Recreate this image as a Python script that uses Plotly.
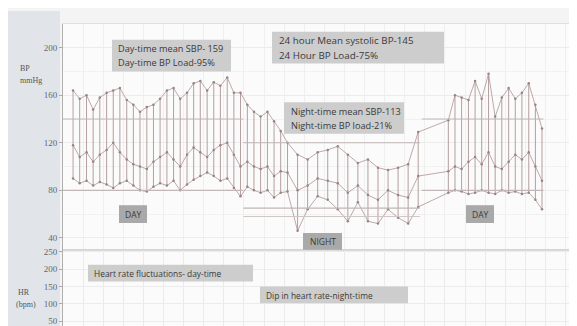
import plotly.graph_objects as go

# ---------------- data ----------------
times_day1 = [0.50, 0.83, 1.17, 1.50, 1.83, 2.17, 2.50, 2.83, 3.17, 3.50, 3.83,
              4.17, 4.50, 4.83, 5.17, 5.50, 5.83, 6.17, 6.50, 6.83, 7.17, 7.50,
              7.83, 8.17, 8.50, 8.83, 9.17, 9.50, 9.83, 10.17, 10.50, 10.83, 11.17]
sys_day1 = [164, 157, 160, 148, 158, 162, 164, 166, 156, 152, 146, 150, 152, 157, 164,
            166, 157, 162, 170, 172, 164, 171, 168, 175, 162, 162, 152, 146, 142, 146,
            138, 130, 120]
dia_day1 = [90, 86, 88, 84, 87, 85, 82, 86, 88, 84, 80, 79, 83, 86, 84, 88, 80, 85, 89,
            92, 95, 92, 88, 90, 82, 75, 83, 80, 78, 80, 74, 78, 79]
map_day1 = [118, 108, 112, 104, 110, 114, 120, 112, 106, 102, 100, 98, 104, 108, 112,
            106, 100, 110, 116, 112, 108, 114, 118, 120, 110, 100, 104, 100, 98, 100,
            92, 96, 95]

times_night = [11.67, 12.17, 12.67, 13.17, 13.67, 14.17, 14.67, 15.17, 15.67, 16.17,
               16.67, 17.17, 17.67]
sys_night = [110, 106, 112, 114, 117, 110, 103, 106, 99, 97, 99, 102, 129]
dia_night = [46, 64, 75, 72, 64, 54, 70, 54, 52, 64, 57, 52, 66]
map_night = [80, 84, 90, 88, 86, 78, 84, 76, 72, 80, 76, 74, 92]

times_day2 = [19.17, 19.50, 19.83, 20.17, 20.50, 20.83, 21.17, 21.50, 21.83, 22.17,
              22.50, 22.83, 23.17, 23.50, 23.83]
sys_day2 = [139, 160, 158, 156, 172, 157, 178, 142, 158, 166, 157, 162, 170, 152, 132]
dia_day2 = [78, 80, 79, 77, 78, 80, 78, 77, 80, 78, 79, 77, 78, 72, 64]
map_day2 = [96, 100, 98, 104, 108, 102, 112, 100, 98, 104, 110, 106, 112, 100, 88]

# threshold segments (start hour, end hour, systolic limit, diastolic limits)
period_start = [0.0, 8.97, 17.85]
period_end = [8.97, 17.75, 23.9]
sys_limit = [140, 120, 140]
dia_limit = [80, 65, 80]
night_extra_limit = 58

bp_ticks = [40, 80, 120, 160, 200]
hr_ticks = [50, 100, 150, 200, 250]

times = times_day1 + times_night + times_day2
sys_all = sys_day1 + sys_night + sys_day2
dia_all = dia_day1 + dia_night + dia_day2
map_all = map_day1 + map_night + map_day2

# ---------------- figure ----------------
W, H = 577, 326
def px(x):
    return x / W
def py(y):
    return 1 - y / H

LINE = "#ad9494"
fig = go.Figure()

# vertical segments diastolic -> systolic
vx, vy = [], []
for t, d, s in zip(times, dia_all, sys_all):
    vx += [t, t, None]
    vy += [d, s, None]
fig.add_trace(go.Scatter(x=vx, y=vy, mode="lines", line=dict(color=LINE, width=0.9),
                         hoverinfo="skip", showlegend=False))
for series in (sys_all, map_all, dia_all):
    fig.add_trace(go.Scatter(x=times, y=series, mode="lines+markers",
                             line=dict(color=LINE, width=0.8),
                             marker=dict(size=2.5, color="#9c8282"), showlegend=False))

# HR panel (no visible data)
fig.add_trace(go.Scatter(x=[None], y=[None], xaxis="x2", yaxis="y2", showlegend=False))

shapes = []
# background strips
shapes.append(dict(type="rect", xref="paper", yref="paper", x0=0, x1=px(52), y0=0, y1=1,
                   fillcolor="#e1e5ea", line_width=0, layer="below"))
shapes.append(dict(type="rect", xref="paper", yref="paper", x0=px(572), x1=1, y0=0, y1=1,
                   fillcolor="#e6e6e6", line_width=0, layer="below"))
shapes.append(dict(type="line", xref="paper", yref="paper", x0=px(571), x1=px(571), y0=0, y1=py(10),
                   line=dict(color="#b5b5b5", width=1.5)))
# panel separator
shapes.append(dict(type="line", xref="paper", yref="paper", x0=px(55), x1=px(571), y0=py(241), y1=py(241),
                   line=dict(color="#c8c8c8", width=1)))

# threshold lines
for x0, x1, sl, dl in zip(period_start, period_end, sys_limit, dia_limit):
    for v in (sl, dl):
        shapes.append(dict(type="line", xref="x", yref="y", x0=x0, x1=x1, y0=v, y1=v,
                           line=dict(color="#c2b6b6", width=1.1)))
shapes.append(dict(type="line", xref="x", yref="y", x0=period_start[1], x1=period_end[1],
                   y0=night_extra_limit, y1=night_extra_limit,
                   line=dict(color="#d0c6c6", width=1)))

BOX = "#cdcdcd"
DARKBOX = "#a9a9a9"
TXT = "#3a3a3a"
boxes = [
    (104, 223, 29, 61, BOX), (264, 436, 21, 53, BOX), (276, 396, 92, 124, BOX),
    (111, 139, 196, 214, DARKBOX), (295, 334, 224, 241, DARKBOX), (458, 486, 196, 214, DARKBOX),
    (80, 245, 256, 273, BOX), (252, 400, 278, 295, BOX),
]
for x0, x1, y0, y1, c in boxes:
    shapes.append(dict(type="rect", xref="paper", yref="paper", x0=px(x0), x1=px(x1),
                       y0=py(y1), y1=py(y0), fillcolor=c, line_width=0, layer="above"))

FONT = "Open Sans"
annotations = []
def txt(x, y, s, size=9, anchor="left", color=TXT, family=FONT):
    annotations.append(dict(xref="paper", yref="paper", x=px(x), y=py(y), text=s,
                            showarrow=False, xanchor=anchor, yanchor="middle",
                            font=dict(family=family, size=size, color=color)))

txt(108, 38, "Day-time mean SBP- 159", 9.2)
txt(108, 52, "Day-time BP Load-95%", 9.2)
txt(269, 30, "24 hour Mean systolic BP-145", 9.8)
txt(269, 45, "24 Hour BP Load-75%", 9.8)
txt(281, 101, "Night-time mean SBP-113", 9.2)
txt(281, 116, "Night-time BP load-21%", 9.2)
txt(125, 205, "DAY", 8.5, "center")
txt(314.5, 232.5, "NIGHT", 8.5, "center")
txt(472, 205, "DAY", 8.5, "center")
txt(84, 265, "Heart rate fluctuations- day-time", 8.4)
txt(256, 287, "Dip in heart rate-night-time", 8.4)
SERIF = "Liberation Serif"
txt(10, 58, "BP", 8, color="#555", family=SERIF)
txt(10, 70, "mmHg", 8, color="#555", family=SERIF)
txt(8, 284, "HR", 8, color="#555", family=SERIF)
txt(6, 296, "(bpm)", 8, color="#555", family=SERIF)

XR = [0, 25.67]
axis_common = dict(showline=True, linecolor="#b0b0b0", ticks="outside", ticklen=3,
                   tickcolor="#aaaaaa", tickfont=dict(family=SERIF, size=9, color="#666"),
                   zeroline=False)

fig.update_layout(
    width=W, height=H, margin=dict(l=0, r=0, t=0, b=0),
    paper_bgcolor="#f4f4f4", plot_bgcolor="#fbfbfb",
    shapes=shapes, annotations=annotations,
    xaxis=dict(domain=[px(55), px(571)], range=XR, anchor="y", showticklabels=False,
               showgrid=True, gridcolor="#efefef", dtick=1, zeroline=False,
               showline=True, linecolor="#e0e0e0", mirror=True),
    yaxis=dict(domain=[py(241), py(13)], range=[30, 220], tickvals=bp_ticks,
               showgrid=True, gridcolor="#ececec",
               minor=dict(dtick=20, showgrid=True, gridcolor="#f1f1f1"), **axis_common),
    xaxis2=dict(domain=[px(55), px(571)], range=XR, anchor="y2", showticklabels=False,
                showgrid=True, gridcolor="#ebebeb", dtick=1, zeroline=False, showline=False),
    yaxis2=dict(domain=[0, py(241)], range=[13, 256], tickvals=hr_ticks,
                showgrid=True, gridcolor="#ececec", **axis_common),
)

fig.write_html("out.html")
